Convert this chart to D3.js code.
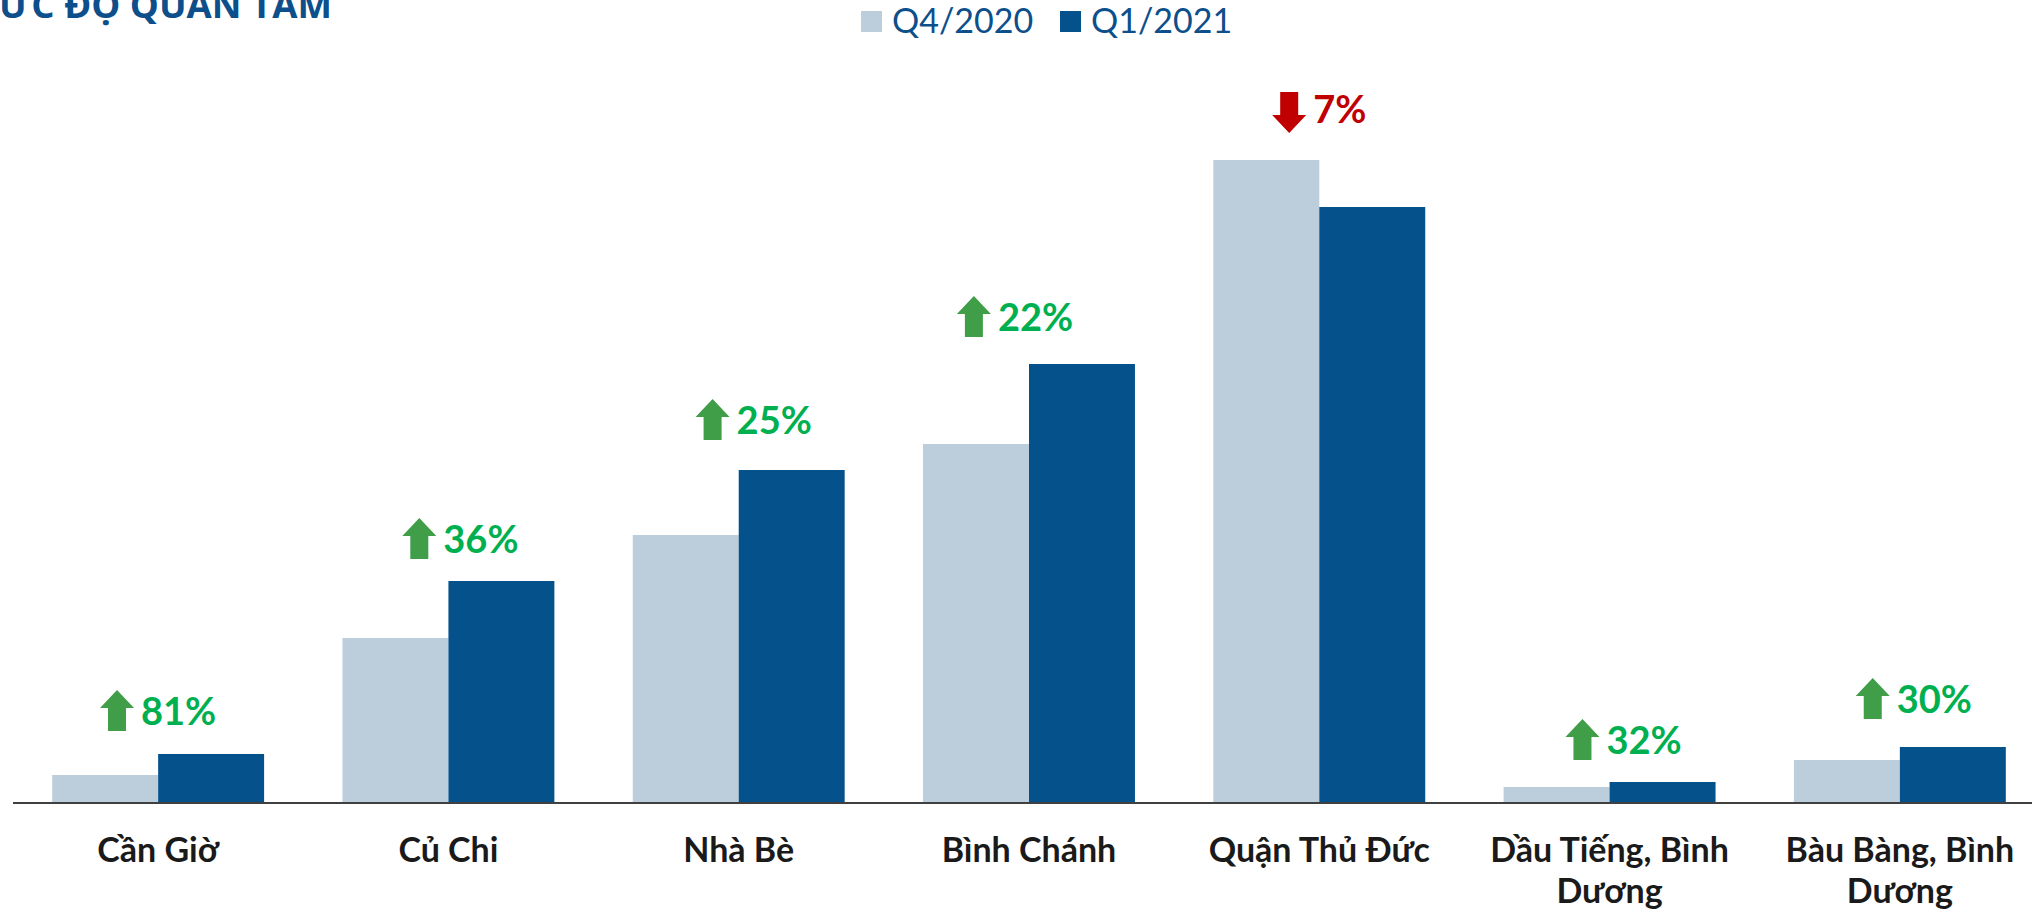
<!DOCTYPE html>
<html>
<head>
<meta charset="utf-8">
<script src="https://cdn.jsdelivr.net/npm/d3@7"></script>
<style>
  html, body { margin: 0; padding: 0; background: #fff; }
  svg { display: block; }
</style>
</head>
<body>
<svg id="chart"></svg>
<script>
// chart values (relative heights)
const categories = ["Cần Giờ", "Củ Chi", "Nhà Bè", "Bình Chánh", "Quận Thủ Đức", "Dầu Tiếng, Bình Dương", "Bàu Bàng, Bình Dương"];
const seriesNames = ["Q4/2020", "Q1/2021"];
const q4Values = [27, 164, 267, 358, 642, 15, 42];
const q1Values = [48, 221, 332, 438, 595, 20, 55];
const changeLabels = ["81%", "36%", "25%", "22%", "7%", "32%", "30%"];

const WIDTH = 2032;
const HEIGHT = 916;
const BASELINE = 802;
const COLORS = ["#BCCDDB", "#04518C"];
const TITLE_COLOR = "#0D4F8B";
// hand-placed label boxes in the original: small nudges per category
const LABEL_DX = [0, 12, 15, -14, 0, 14, 14];
const LABEL_GAP = [23, 22, 30, 27, 27, 22, 28];

/**
 * Splits a label into lines that fit in the given width.
 */
function wrapText(textSel, maxWidth, lineHeight) {
  textSel.each(function (d) {
    const text = d3.select(this);
    const words = d.split(" ");
    const x = text.attr("x");
    const y = +text.attr("y");
    text.text(null);
    let line = [];
    let lineNo = 0;
    let tspan = text.append("tspan").attr("x", x).attr("y", y);
    words.forEach((w) => {
      line.push(w);
      tspan.text(line.join(" "));
      if (tspan.node().getComputedTextLength() > maxWidth && line.length > 1) {
        line.pop();
        tspan.text(line.join(" "));
        line = [w];
        lineNo++;
        tspan = text.append("tspan").attr("x", x).attr("y", y + lineNo * lineHeight).text(w);
      }
    });
  });
}

/**
 * Draws an up or down arrow with its top-center at (0,0).
 */
function arrowPath(up) {
  const hw = 17, sw = 9, h = 41, head = 18;
  if (up) {
    return `M0,0L${hw},${head}L${sw},${head}L${sw},${h}L${-sw},${h}L${-sw},${head}L${-hw},${head}Z`;
  }
  return `M${-sw},0L${sw},0L${sw},${h - head}L${hw},${h - head}L0,${h}L${-hw},${h - head}L${-sw},${h - head}Z`;
}

const svg = d3.select("#chart").attr("width", WIDTH).attr("height", HEIGHT);

const x = d3.scaleBand()
  .domain(categories)
  .range([13, 2045])
  .paddingInner(0.27)
  .paddingOuter(0.135);

const xSub = d3.scaleBand()
  .domain(seriesNames)
  .range([0, x.bandwidth()]);

const y = d3.scaleLinear()
  .domain([0, 700])
  .range([BASELINE, BASELINE - 700]);

const data = categories.map((c, i) => ({
  category: c,
  values: [q4Values[i], q1Values[i]],
  label: changeLabels[i],
}));

// title (cut off at the top-left in the source): first letter sits off-canvas
const title = svg.append("text")
  .attr("y", 18)
  .attr("font-family", "'Open Sans', sans-serif")
  .attr("font-weight", "bold")
  .attr("font-size", 33)
  .attr("fill", TITLE_COLOR);
const firstPart = title.append("tspan").text("M");
const restPart = title.append("tspan").text("ỨC ĐỘ QUAN TÂM");
const fs = 33 * 333 / restPart.node().getComputedTextLength();
title.attr("font-size", fs);
title.attr("x", -firstPart.node().getComputedTextLength() - 1);

// legend
const legendX = [861, 1060];
const legend = svg.append("g").attr("class", "legend");
seriesNames.forEach((s, i) => {
  legend.append("rect")
    .attr("x", legendX[i])
    .attr("y", 11)
    .attr("width", 21)
    .attr("height", 21)
    .attr("fill", COLORS[i]);
  legend.append("text")
    .attr("x", legendX[i] + 31)
    .attr("y", 33)
    .attr("font-family", "Lato, sans-serif")
    .attr("font-size", 34)
    .attr("fill", TITLE_COLOR)
    .text(s);
});

// bars
const groups = svg.append("g")
  .attr("class", "bars")
  .selectAll("g")
  .data(data)
  .enter()
  .append("g")
  .attr("transform", (d) => `translate(${x(d.category)},0)`);

groups.selectAll("rect")
  .data((d) => d.values.map((v, i) => ({ key: seriesNames[i], value: v, i: i })))
  .enter()
  .append("rect")
  .attr("x", (d) => xSub(d.key))
  .attr("y", (d) => y(d.value))
  .attr("width", xSub.bandwidth())
  .attr("height", (d) => BASELINE - y(d.value))
  .attr("fill", (d) => COLORS[d.i]);

// axis line
svg.append("line")
  .attr("x1", 13)
  .attr("x2", WIDTH)
  .attr("y1", BASELINE + 1)
  .attr("y2", BASELINE + 1)
  .attr("stroke", "#404040")
  .attr("stroke-width", 2);

// change labels with arrows
data.forEach((d, i) => {
  const up = d.values[1] >= d.values[0];
  const arrowColor = up ? "#3F9E47" : "#C00000";
  const textColor = up ? "#00B050" : "#C00000";
  const top = y(d3.max(d.values));
  const arrowTop = top - LABEL_GAP[i] - 41;
  const cx = x(d.category) + x.bandwidth() / 2 + LABEL_DX[i];

  const g = svg.append("g").attr("class", "change");
  const t = g.append("text")
    .attr("y", arrowTop + 41 - (up ? 6 : 10))
    .attr("font-family", "Lato, sans-serif")
    .attr("font-weight", "bold")
    .attr("font-size", 38)
    .attr("fill", textColor)
    .text(d.label);
  const tw = t.node().getComputedTextLength();
  const total = 34 + 7 + tw;
  const left = cx - total / 2;
  t.attr("x", left + 41);
  g.append("path")
    .attr("d", arrowPath(up))
    .attr("transform", `translate(${left + 17},${arrowTop})`)
    .attr("fill", arrowColor);
});

// category labels
svg.append("g")
  .attr("class", "xlabels")
  .selectAll("text")
  .data(categories)
  .enter()
  .append("text")
  .attr("x", (d) => x(d) + x.bandwidth() / 2)
  .attr("y", 862)
  .attr("text-anchor", "middle")
  .attr("font-family", "Lato, sans-serif")
  .attr("font-weight", "bold")
  .attr("font-size", 34)
  .attr("fill", "#1A1A1A")
  .text((d) => d)
  .call(wrapText, 250, 41);
</script>
</body>
</html>
